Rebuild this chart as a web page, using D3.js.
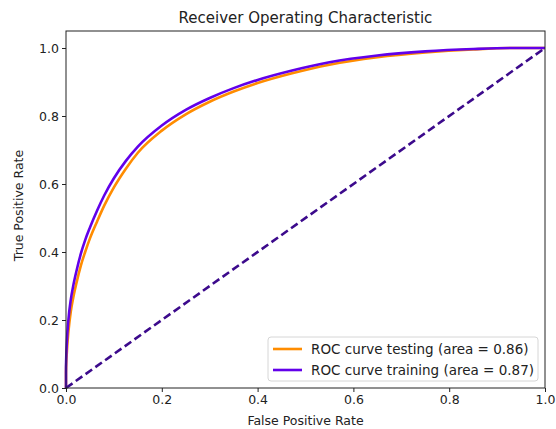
<!DOCTYPE html>
<html>
<head>
<meta charset="utf-8">
<script src="https://cdn.jsdelivr.net/npm/d3@7"></script>
<style>
  body { margin: 0; background: #fff; }
  text { font-family: "DejaVu Sans", sans-serif; fill: #222; }
</style>
</head>
<body>
<div id="roc"></div>
<script>
// ROC points
var fprTrain = [0, 0, 0.002, 0.005, 0.01, 0.015, 0.022, 0.031, 0.04, 0.05, 0.065, 0.08, 0.1, 0.125, 0.15, 0.2, 0.25, 0.3, 0.35, 0.4, 0.47, 0.55, 0.65, 0.75, 0.85, 0.93, 1];
var tprTrain = [0, 0.06, 0.14, 0.2, 0.26, 0.3, 0.345, 0.395, 0.435, 0.472, 0.522, 0.567, 0.617, 0.668, 0.71, 0.772, 0.818, 0.853, 0.882, 0.906, 0.933, 0.958, 0.978, 0.99, 0.997, 1, 1];
var fprTest = [0, 0, 0.002, 0.005, 0.01, 0.015, 0.022, 0.031, 0.04, 0.05, 0.065, 0.08, 0.1, 0.125, 0.15, 0.2, 0.25, 0.3, 0.35, 0.4, 0.47, 0.55, 0.65, 0.75, 0.85, 0.93, 1];
var tprTest = [0, 0.045, 0.11, 0.165, 0.225, 0.265, 0.31, 0.36, 0.4, 0.44, 0.49, 0.537, 0.59, 0.645, 0.692, 0.757, 0.805, 0.842, 0.872, 0.897, 0.925, 0.951, 0.973, 0.987, 0.996, 1, 1];
var diagX = [0, 1];
var diagY = [0, 1];
var ticks = [0, 0.2, 0.4, 0.6, 0.8, 1.0];
var legendLabels = ["ROC curve testing (area = 0.86)", "ROC curve training (area = 0.87)"];

var margin = { top: 31, right: 11, bottom: 41, left: 66 },
    width = 556 - margin.left - margin.right,
    height = 429 - margin.top - margin.bottom;

var svg = d3.select("#roc")
    .append("svg")
    .attr("width", 556)
    .attr("height", 429)
    .append("g")
    .attr("transform", "translate(" + margin.left + "," + margin.top + ")");

var x = d3.scaleLinear().domain([0, 1]).range([0, width]);
var y = d3.scaleLinear().domain([0, 1.05]).range([height, 0]);

var line = d3.line()
    .x(function (d) { return x(d[0]); })
    .y(function (d) { return y(d[1]); })
    .curve(d3.curveMonotoneX);

svg.append("path")
    .datum(d3.zip(fprTest, tprTest))
    .attr("d", line)
    .attr("fill", "none")
    .attr("stroke", "#ff8c00")
    .attr("stroke-width", 2.6);

svg.append("path")
    .datum(d3.zip(fprTrain, tprTrain))
    .attr("d", line)
    .attr("fill", "none")
    .attr("stroke", "#6200ea")
    .attr("stroke-width", 2.6);

svg.append("path")
    .datum(d3.zip(diagX, diagY))
    .attr("d", d3.line().x(function (d) { return x(d[0]); }).y(function (d) { return y(d[1]); }))
    .attr("fill", "none")
    .attr("stroke", "#3c0a8c")
    .attr("stroke-width", 2.6)
    .attr("stroke-dasharray", "8,4");

// axes
var xAxis = svg.append("g")
    .attr("transform", "translate(0," + height + ")")
    .call(d3.axisBottom(x).tickValues(ticks).tickFormat(d3.format(".1f")).tickSize(4).tickPadding(3));
var yAxis = svg.append("g")
    .call(d3.axisLeft(y).tickValues(ticks).tickFormat(d3.format(".1f")).tickSize(4).tickPadding(3));
[xAxis, yAxis].forEach(function (a) {
    a.select(".domain").remove();
    a.selectAll("line").attr("stroke", "#222");
    a.selectAll("text").style("font-size", "12.5px").attr("fill", "#222");
});

svg.append("rect")
    .attr("width", width)
    .attr("height", height)
    .attr("fill", "none")
    .attr("stroke", "#222")
    .attr("stroke-width", 1);

// titles
svg.append("text")
    .attr("x", width / 2)
    .attr("y", -8)
    .attr("text-anchor", "middle")
    .style("font-size", "15px")
    .text("Receiver Operating Characteristic");

svg.append("text")
    .attr("x", width / 2)
    .attr("y", height + 37)
    .attr("text-anchor", "middle")
    .style("font-size", "12.5px")
    .text("False Positive Rate");

svg.append("text")
    .attr("transform", "translate(-43," + (height / 2 - 4) + ") rotate(-90)")
    .attr("text-anchor", "middle")
    .style("font-size", "12.5px")
    .text("True Positive Rate");

// legend
var legend = svg.append("g")
    .attr("transform", "translate(" + (width - 277) + "," + (height - 51) + ")");
legend.append("rect")
    .attr("width", 270)
    .attr("height", 44)
    .attr("rx", 3)
    .attr("fill", "#fff")
    .attr("fill-opacity", 0.8)
    .attr("stroke", "#d6d6d6");
var colors = ["#ff8c00", "#6200ea"];
legendLabels.forEach(function (lab, i) {
    legend.append("line")
        .attr("x1", 5).attr("x2", 34)
        .attr("y1", 12 + i * 21).attr("y2", 12 + i * 21)
        .attr("stroke", colors[i])
        .attr("stroke-width", 2.6);
    legend.append("text")
        .attr("x", 43)
        .attr("y", 17 + i * 21)
        .style("font-size", "13.5px")
        .text(lab);
});
</script>
</body>
</html>
